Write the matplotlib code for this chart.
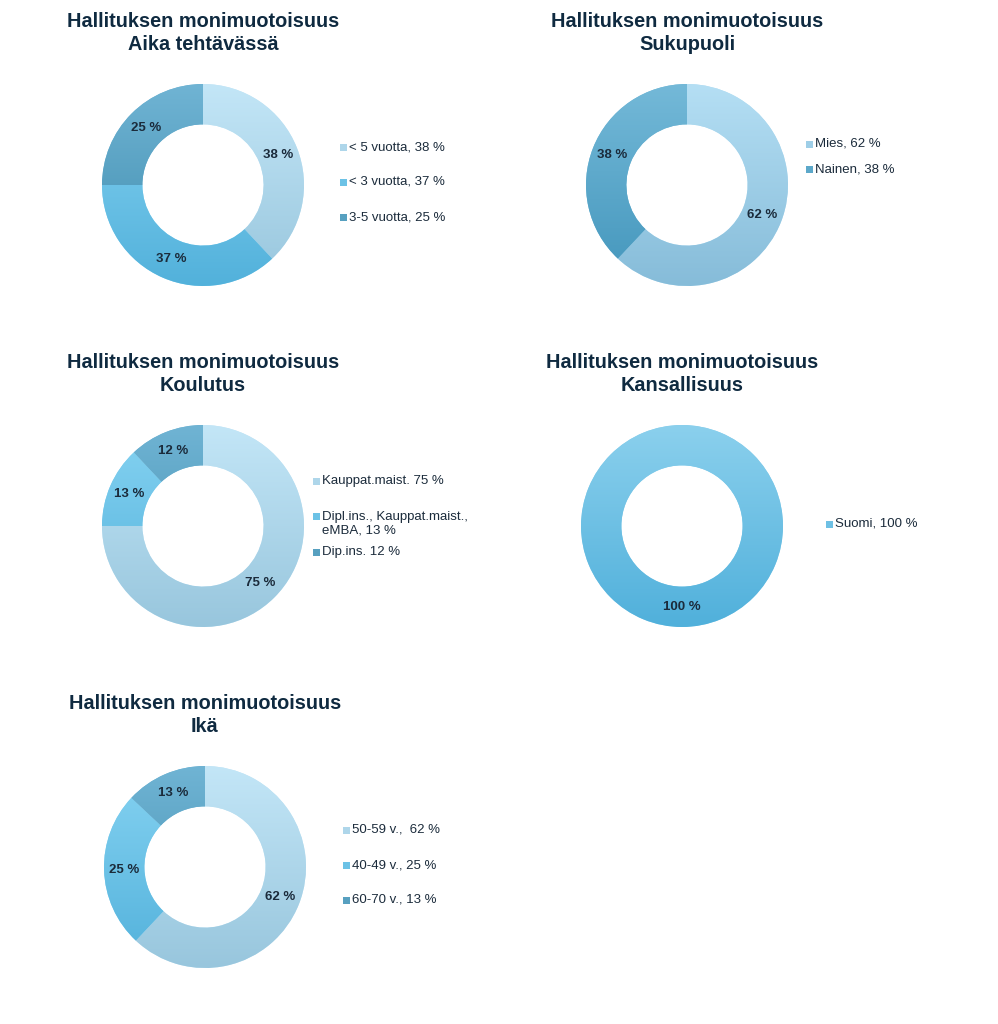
## Hallituksen monimuotoisuus - five donut charts with vertical gradient fills

import numpy as np
import matplotlib
matplotlib.use("Agg")
import matplotlib.pyplot as plt
from matplotlib.colors import LinearSegmentedColormap, to_rgb
from matplotlib.patches import Rectangle

plt.rcParams['font.family'] = ['Liberation Sans', 'DejaVu Sans']

W, H = 998, 1024

title_main = "Hallituksen monimuotoisuus"

aika_labels = ["< 5 vuotta, 38 %", "< 3 vuotta, 37 %", "3-5 vuotta, 25 %"]
aika_values = [38, 37, 25]

suku_labels = ["Mies, 62 %", "Nainen, 38 %"]
suku_values = [62, 38]

koulu_labels = ["Kauppat.maist. 75 %", "Dipl.ins., Kauppat.maist.,\neMBA, 13 %", "Dip.ins. 12 %"]
koulu_values = [75, 13, 12]

kansa_labels = ["Suomi, 100 %"]
kansa_values = [100]

ika_labels = ["50-59 v.,  62 %", "40-49 v., 25 %", "60-70 v., 13 %"]
ika_values = [62, 25, 13]

# gradient (top, bottom) per slice
blue3 = [("#c3e6f7", "#98c6dd"), ("#86d3f2", "#52b1db"), ("#70b4d4", "#3d8bac")]
blue2 = [("#b5dff4", "#86bcd9"), ("#74b9d8", "#4396bc")]
blue1 = [("#8bd0ed", "#50b0db")]

title_col = "#0f2a40"
text_col = "#1b2b3b"

# name, values, labels, colors, center(px), title y(px), legend x(px), legend ys(px)
charts = [
    ("Aika tehtävässä", aika_values, aika_labels, blue3, (203, 185), 33, 343, [147, 182, 217]),
    ("Sukupuoli", suku_values, suku_labels, blue2, (687, 185), 33, 809, [144, 169]),
    ("Koulutus", koulu_values, koulu_labels, blue3, (203, 526), 374, 316, [481, 523.5, 552]),
    ("Kansallisuus", kansa_values, kansa_labels, blue1, (682, 526), 374, 829, [524]),
    ("Ikä", ika_values, ika_labels, blue3, (205, 867), 715, 346, [830, 865, 900]),
]

R = 101

fig = plt.figure(figsize=(W / 100, H / 100), dpi=100)

grad = np.linspace(0, 1, 256).reshape(-1, 1)

for name, vals, labs, cols, (cx, cy), ty, lx, lys in charts:
    ax = fig.add_axes([(cx - R) / W, 1 - (cy + R) / H, 2 * R / W, 2 * R / H])
    wedges, _ = ax.pie(vals, startangle=90, counterclock=False, radius=1,
                       colors=[c[0] for c in cols],
                       wedgeprops=dict(width=0.4, linewidth=0))
    for w, (top, bot) in zip(wedges, cols):
        cmap = LinearSegmentedColormap.from_list("g", [top, bot])
        im = ax.imshow(grad, cmap=cmap, extent=(-1, 1, -1, 1), aspect='auto',
                       origin='upper', zorder=2)
        im.set_clip_path(w)
    # data labels
    total = sum(vals)
    start = 90.0
    for v in vals:
        mid = np.deg2rad(start - v / total * 360 / 2)
        start -= v / total * 360
        ax.text(0.8 * np.cos(mid), 0.8 * np.sin(mid), f"{v} %", ha='center', va='center',
                fontsize=9.5, fontweight='bold', color=text_col, zorder=3)
    ax.set_xlim(-1, 1)
    ax.set_ylim(-1, 1)
    ax.set_aspect('equal')
    ax.axis('off')

    fig.text(cx / W, 1 - ty / H, title_main + "\n" + name, ha='center', va='center',
             fontsize=14.3, fontweight='bold', color=title_col, linespacing=1.29)

    # legend
    for lab, (top, bot), y in zip(labs, cols, lys):
        first_y = y - (7.5 if "\n" in lab else 0)
        mcol = tuple((a + b) / 2 for a, b in zip(to_rgb(top), to_rgb(bot)))
        fig.patches.append(Rectangle(((lx - 3.5) / W, 1 - (first_y + 3.5) / H), 7 / W, 7 / H,
                                     transform=fig.transFigure, facecolor=mcol,
                                     edgecolor='none'))
        fig.text((lx + 6) / W, 1 - y / H, lab, ha='left', va='center',
                 fontsize=9.5, color=text_col, linespacing=1.15)

fig.savefig("out.png", dpi=100, facecolor='white')
